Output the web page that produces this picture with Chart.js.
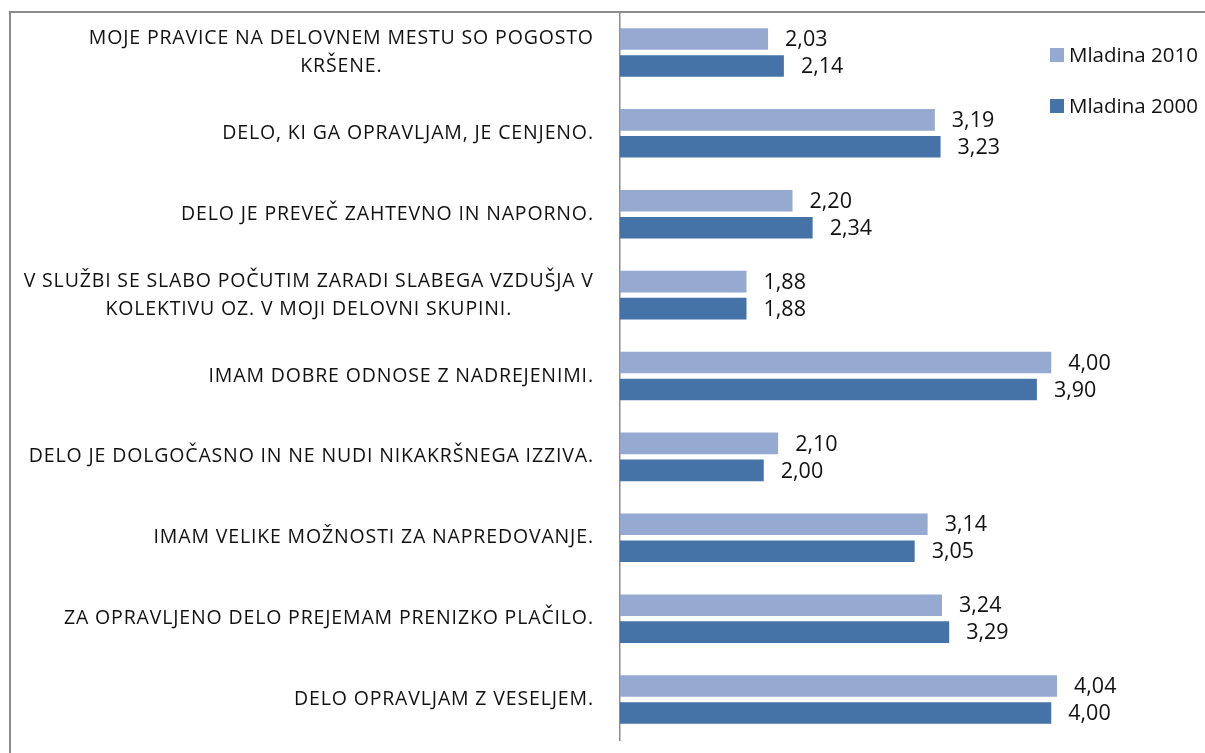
<!DOCTYPE html>
<html>
<head>
<meta charset="utf-8">
<script src="https://cdn.jsdelivr.net/npm/chart.js@4.4.1/dist/chart.umd.min.js"></script>
<style>
  html, body { margin: 0; padding: 0; background: #ffffff; }
  #wrap { position: relative; width: 1205px; height: 753px; }
</style>
</head>
<body>
<div id="wrap"><canvas id="c" width="1205" height="753"></canvas></div>
<script>
// Statements (each entry is an array of text lines)
const categories = [
  ["MOJE PRAVICE NA DELOVNEM MESTU SO POGOSTO", "KRŠENE."],
  ["DELO, KI GA OPRAVLJAM, JE CENJENO."],
  ["DELO JE PREVEČ ZAHTEVNO IN NAPORNO."],
  ["V SLUŽBI SE SLABO POČUTIM ZARADI SLABEGA VZDUŠJA V", "KOLEKTIVU OZ. V MOJI DELOVNI SKUPINI."],
  ["IMAM DOBRE ODNOSE Z NADREJENIMI."],
  ["DELO JE DOLGOČASNO IN NE NUDI NIKAKRŠNEGA IZZIVA."],
  ["IMAM VELIKE MOŽNOSTI ZA NAPREDOVANJE."],
  ["ZA OPRAVLJENO DELO PREJEMAM PRENIZKO PLAČILO."],
  ["DELO OPRAVLJAM Z VESELJEM."]
];

// Mean scores
const mladina2010 = [2.03, 3.19, 2.20, 1.88, 4.00, 2.10, 3.14, 3.24, 4.04];
const mladina2000 = [2.14, 3.23, 2.34, 1.88, 3.90, 2.00, 3.05, 3.29, 4.00];

const seriesNames = ["Mladina 2010", "Mladina 2000"];

const FONT = "'Open Sans', Lato, sans-serif";
const frameColor = "#8c8c8c";

const fmt = v => v.toFixed(2).replace(".", ",");

// Outer frame (top and left edges visible)
const framePlugin = {
  id: "frame",
  beforeDraw(chart) {
    const ctx = chart.ctx;
    ctx.save();
    ctx.strokeStyle = frameColor;
    ctx.lineWidth = 2;
    ctx.beginPath();
    ctx.moveTo(10, 753);
    ctx.lineTo(10, 12);
    ctx.lineTo(1205, 12);
    ctx.stroke();
    ctx.restore();
  }
};

// Category labels: block right-aligned against the axis, lines centred within the block
const categoryLabelPlugin = {
  id: "catLabels",
  afterDraw(chart) {
    const ctx = chart.ctx;
    const y = chart.scales.y;
    const right = 593;
    const lineH = 28;
    const spacing = 0.85;
    ctx.save();
    ctx.font = "19.5px " + FONT;
    ctx.letterSpacing = spacing + "px";
    ctx.fillStyle = "#111111";
    ctx.textAlign = "center";
    ctx.textBaseline = "middle";
    categories.forEach((lines, i) => {
      const cy = y.getPixelForValue(i);
      const widths = lines.map(l => ctx.measureText(l).width);
      const w = Math.max(...widths);
      const cx = right + spacing - w / 2;
      const y0 = cy - (lines.length - 1) * lineH / 2;
      lines.forEach((l, k) => ctx.fillText(l, cx, y0 + k * lineH));
    });
    ctx.restore();
  }
};

// Value labels to the right of every bar
const valueLabelPlugin = {
  id: "valueLabels",
  afterDatasetsDraw(chart) {
    const ctx = chart.ctx;
    ctx.save();
    ctx.font = "21.5px " + FONT;
    ctx.fillStyle = "#111111";
    ctx.textAlign = "left";
    ctx.textBaseline = "middle";
    chart.data.datasets.forEach((ds, di) => {
      const meta = chart.getDatasetMeta(di);
      meta.data.forEach((bar, i) => {
        ctx.fillText(fmt(ds.data[i]), bar.x + 17, bar.y + 1);
      });
    });
    ctx.restore();
  }
};

// Legend in the upper right corner
const legendPlugin = {
  id: "sideLegend",
  afterDraw(chart) {
    const ctx = chart.ctx;
    ctx.save();
    ctx.font = "20.5px " + FONT;
    ctx.textAlign = "left";
    ctx.textBaseline = "middle";
    chart.data.datasets.forEach((ds, di) => {
      const cy = 55 + di * 51;
      ctx.fillStyle = ds.backgroundColor;
      ctx.fillRect(1050, cy - 7, 14, 14);
      ctx.fillStyle = "#111111";
      ctx.fillText(ds.label, 1069, cy + 1);
    });
    ctx.restore();
  }
};

new Chart(document.getElementById("c"), {
  type: "bar",
  data: {
    labels: categories,
    datasets: [
      {
        label: seriesNames[0],
        data: mladina2010,
        backgroundColor: "#95a9d1",
        borderWidth: 0,
        barPercentage: 0.8,
        categoryPercentage: 0.667
      },
      {
        label: seriesNames[1],
        data: mladina2000,
        backgroundColor: "#4673a7",
        borderWidth: 0,
        barPercentage: 0.8,
        categoryPercentage: 0.667
      }
    ]
  },
  options: {
    indexAxis: "y",
    responsive: false,
    animation: false,
    layout: { padding: { left: 620, right: 10, top: 12, bottom: 13 } },
    scales: {
      x: {
        display: false,
        min: 1,
        max: 5
      },
      y: {
        display: true,
        ticks: { display: false },
        grid: { display: false, drawTicks: false },
        border: { display: true, color: frameColor, width: 1.5 }
      }
    },
    plugins: {
      legend: { display: false },
      tooltip: { enabled: false }
    }
  },
  plugins: [framePlugin, categoryLabelPlugin, valueLabelPlugin, legendPlugin]
});
</script>
</body>
</html>
